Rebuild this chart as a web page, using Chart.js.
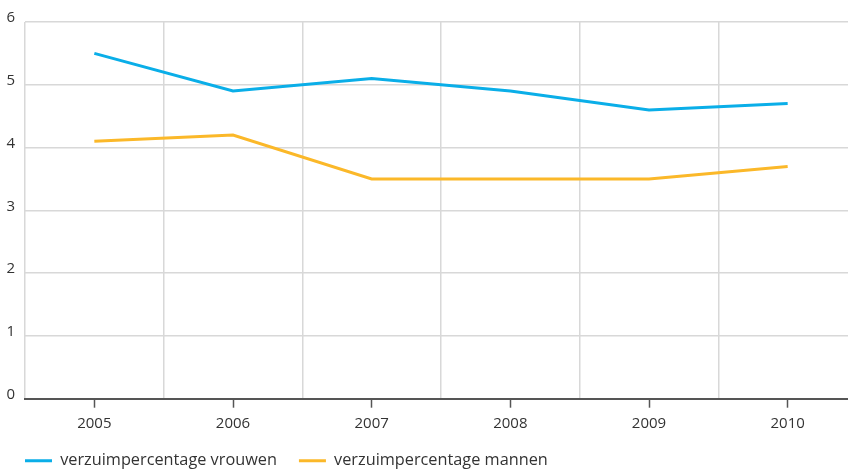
<!DOCTYPE html>
<html>
<head>
<meta charset="utf-8">
<script src="https://cdn.jsdelivr.net/npm/chart.js@4/dist/chart.umd.min.js"></script>
<style>
  html, body { margin: 0; padding: 0; background: #fff; overflow: hidden; }
  #wrap { position: relative; left: 3px; width: 857px; height: 479px; }
</style>
</head>
<body>
<div id="wrap"><canvas id="grafiek"></canvas></div>
<script>
// jaren en verzuimpercentages
const jaren = ['2005', '2006', '2007', '2008', '2009', '2010'];
const vrouwen = [5.5, 4.9, 5.1, 4.9, 4.6, 4.7];
const mannen = [4.1, 4.2, 3.5, 3.5, 3.5, 3.7];
const yTicks = [0, 1, 2, 3, 4, 5, 6];

const blauw = '#0aaee8';
const oranje = '#fbb829';
const tekstKleur = '#333333';
const lettertype = "'Open Sans', sans-serif";

const ctx = document.getElementById('grafiek').getContext('2d');
new Chart(ctx, {
    type: 'line',
    data: {
        labels: jaren,
        datasets: [{
            label: 'verzuimpercentage vrouwen',
            data: vrouwen,
            borderColor: blauw,
            backgroundColor: blauw,
            borderWidth: 3,
            pointRadius: 0,
            tension: 0,
            xAxisID: 'x'
        }, {
            label: 'verzuimpercentage mannen',
            data: mannen,
            borderColor: oranje,
            backgroundColor: oranje,
            borderWidth: 3,
            pointRadius: 0,
            tension: 0,
            xAxisID: 'x'
        }]
    },
    options: {
        responsive: true,
        maintainAspectRatio: false,
        animation: false,
        layout: { padding: { left: 0, right: 3, top: 22, bottom: 0 } },
        plugins: {
            tooltip: { enabled: false },
            legend: {
                position: 'bottom',
                align: 'start',
                labels: {
                    boxWidth: 27,
                    boxHeight: 3,
                    padding: 22,
                    color: tekstKleur,
                    font: { family: lettertype, size: 16.3 },
                    generateLabels(chart) {
                        const items = Chart.defaults.plugins.legend.labels.generateLabels(chart);
                        items.forEach(i => { i.lineWidth = 0; });
                        return items;
                    }
                }
            }
        },
        scales: {
            // verticale rasterlijnen tussen de jaren
            x: {
                type: 'category',
                position: 'top',
                offset: true,
                grid: { offset: true, color: '#d8d8d8', lineWidth: 1.5, drawTicks: false },
                border: { display: false },
                ticks: { display: false }
            },
            // as met streepjes en jaartallen
            x2: {
                type: 'category',
                labels: jaren,
                position: 'bottom',
                offset: true,
                afterFit(scale) { scale.height = 32; },
                grid: { offset: false, drawOnChartArea: false, tickLength: 9, tickColor: '#555555', tickWidth: 1.5 },
                border: { display: true, color: '#555555', width: 2 },
                ticks: { color: tekstKleur, font: { family: lettertype, size: 15 }, padding: 7, maxRotation: 0 }
            },
            y: {
                min: 0,
                max: 6,
                afterBuildTicks(scale) { scale.ticks = yTicks.map(v => ({ value: v })); },
                afterFit(scale) { scale.width = 22; },
                grid: { color: '#d8d8d8', lineWidth: 1.5, drawTicks: false },
                border: { display: false },
                ticks: { color: tekstKleur, font: { family: lettertype, size: 15 }, padding: 10, labelOffset: -4 }
            }
        }
    }
});
</script>
</body>
</html>
